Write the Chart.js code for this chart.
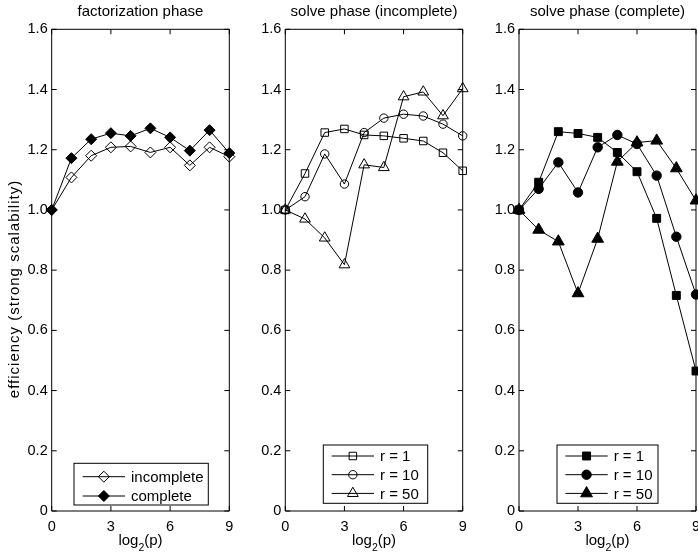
<!DOCTYPE html>
<html>
<head>
<meta charset="utf-8">
<script src="https://cdn.jsdelivr.net/npm/chart.js@4/dist/chart.umd.min.js"></script>
<style>
  html, body { margin: 0; padding: 0; background: #fff; }
  body { width: 698px; height: 555px; position: relative; overflow: hidden; }
  canvas { position: absolute; top: 0; }
</style>
</head>
<body>
<canvas id="c1" width="240" height="555" style="left:0px"></canvas>
<canvas id="c2" width="240" height="555" style="left:230px"></canvas>
<canvas id="c3" width="238" height="555" style="left:460px"></canvas>
<script>
// ---- data ----
const log2p = [0, 1, 2, 3, 4, 5, 6, 7, 8, 9];
const xTicks = [0, 3, 6, 9];
const yTicks = [0, 0.2, 0.4, 0.6, 0.8, 1, 1.2, 1.4, 1.6];

const factIncomplete = [1.0, 1.108, 1.180, 1.208, 1.211, 1.191, 1.208, 1.148, 1.208, 1.177];
const factComplete   = [1.0, 1.172, 1.235, 1.255, 1.246, 1.271, 1.241, 1.197, 1.265, 1.189];

const solveIncR1  = [1.0, 1.121, 1.257, 1.269, 1.249, 1.246, 1.238, 1.229, 1.190, 1.130];
const solveIncR10 = [1.0, 1.044, 1.186, 1.086, 1.257, 1.305, 1.318, 1.312, 1.285, 1.246];
const solveIncR50 = [1.0, 0.970, 0.907, 0.818, 1.150, 1.141, 1.376, 1.392, 1.313, 1.403];

const solveComR1  = [1.0, 1.092, 1.260, 1.254, 1.241, 1.191, 1.127, 0.972, 0.716, 0.465];
const solveComR10 = [1.0, 1.070, 1.158, 1.058, 1.208, 1.249, 1.219, 1.114, 0.911, 0.719];
const solveComR50 = [1.0, 0.934, 0.895, 0.723, 0.904, 1.160, 1.224, 1.230, 1.138, 1.031];

const titles = ['factorization phase', 'solve phase (incomplete)', 'solve phase (complete)'];
const xLabelMain = 'log';
const xLabelSub = '2';
const xLabelTail = '(p)';
const yLabel = 'efficiency (strong scalability)';

// ---- helpers ----
const FONT = '"Liberation Sans", Arial, Helvetica, sans-serif';
const pts = (arr) => log2p.map((x, i) => ({ x: x, y: arr[i] }));
const CLEAR = 'rgba(0,0,0,0)';

function ds(label, arr, style, radius, filled) {
  return {
    label: label,
    data: pts(arr),
    borderColor: '#000',
    borderWidth: 1,
    pointStyle: style,
    pointRadius: radius,
    pointHoverRadius: radius,
    pointBorderWidth: 1,
    pointBorderColor: '#000',
    pointBackgroundColor: filled ? '#000' : CLEAR,
    backgroundColor: filled ? '#000' : CLEAR,
    fill: false,
    tension: 0,
    clip: false
  };
}

function drawMarker(ctx, d, x, y) {
  if (Chart.helpers && Chart.helpers.drawPoint) {
    ctx.save();
    ctx.fillStyle = d.pointBackgroundColor;
    ctx.strokeStyle = d.pointBorderColor;
    ctx.lineWidth = d.pointBorderWidth;
    Chart.helpers.drawPoint(ctx, { pointStyle: d.pointStyle, radius: d.pointRadius, rotation: 0, borderWidth: d.pointBorderWidth }, x, y);
    ctx.restore();
  }
}

const framePlugin = {
  id: 'frame',
  afterDraw(chart, args, opts) {
    const ctx = chart.ctx;
    const a = chart.chartArea;
    const xs = chart.scales.x, ys = chart.scales.y;
    ctx.save();
    ctx.strokeStyle = '#000';
    ctx.lineWidth = 1;
    ctx.beginPath();
    ctx.rect(a.left, a.top, a.right - a.left, a.bottom - a.top);
    ctx.stroke();
    const L = 5;
    ctx.beginPath();
    xTicks.forEach(v => {
      const px = xs.getPixelForValue(v);
      ctx.moveTo(px, a.bottom); ctx.lineTo(px, a.bottom - L);
      ctx.moveTo(px, a.top); ctx.lineTo(px, a.top + L);
    });
    yTicks.forEach(v => {
      const py = ys.getPixelForValue(v);
      ctx.moveTo(a.left, py); ctx.lineTo(a.left + L, py);
      ctx.moveTo(a.right, py); ctx.lineTo(a.right - L, py);
    });
    ctx.stroke();

    // title
    ctx.fillStyle = '#000';
    ctx.font = '15px ' + FONT;
    ctx.textAlign = 'center';
    ctx.textBaseline = 'middle';
    const cx = (a.left + a.right) / 2;
    ctx.fillText(opts.title, cx, 12);

    // x-axis label with subscript
    ctx.textBaseline = 'alphabetic';
    ctx.textAlign = 'left';
    ctx.font = '15px ' + FONT;
    const w1 = ctx.measureText(xLabelMain).width;
    const w3 = ctx.measureText(xLabelTail).width;
    ctx.font = '10.5px ' + FONT;
    const w2 = ctx.measureText(xLabelSub).width;
    let x0 = cx - (w1 + w2 + w3) / 2;
    const base = 545;
    ctx.font = '15px ' + FONT;
    ctx.fillText(xLabelMain, x0, base);
    ctx.font = '10.5px ' + FONT;
    ctx.fillText(xLabelSub, x0 + w1, base + 6);
    ctx.font = '15px ' + FONT;
    ctx.fillText(xLabelTail, x0 + w1 + w2, base);

    // y label
    if (opts.yLabel) {
      ctx.save();
      ctx.translate(15, 289);
      ctx.rotate(-Math.PI / 2);
      ctx.textAlign = 'center';
      ctx.textBaseline = 'middle';
      ctx.font = '15px ' + FONT;
      try { ctx.letterSpacing = '1px'; } catch (e) {}
      ctx.fillText(yLabel, 0, 0);
      try { ctx.letterSpacing = '0px'; } catch (e) {}
      ctx.restore();
    }

    // legend
    const lg = opts.legend;
    const dsets = chart.data.datasets;
    const bx = a.left + lg.dx, bw = lg.w, bh = lg.h;
    const by = a.bottom - lg.dyBottom - bh;
    ctx.fillStyle = '#fff';
    ctx.fillRect(bx, by, bw, bh);
    ctx.strokeStyle = '#000';
    ctx.lineWidth = 1;
    ctx.strokeRect(bx, by, bw, bh);
    dsets.forEach((d, i) => {
      const ry = by + lg.firstRow + i * lg.rowGap;
      ctx.beginPath();
      ctx.strokeStyle = '#000';
      ctx.lineWidth = 1;
      ctx.moveTo(bx + lg.lineX0, ry);
      ctx.lineTo(bx + lg.lineX1, ry);
      ctx.stroke();
      drawMarker(ctx, d, bx + (lg.lineX0 + lg.lineX1) / 2, ry);
      ctx.fillStyle = '#000';
      ctx.font = '15px ' + FONT;
      ctx.textAlign = 'left';
      ctx.textBaseline = 'middle';
      ctx.fillText(d.label, bx + lg.textX, ry + 1);
    });
    ctx.restore();
  }
};

function makeChart(id, datasets, yWidth, padRight, title, showYLabel, legend) {
  return new Chart(document.getElementById(id), {
    type: 'line',
    data: { datasets: datasets },
    options: {
      responsive: false,
      animation: false,
      devicePixelRatio: 1,
      layout: { autoPadding: false, padding: { left: 0, right: padRight, top: 29.3, bottom: 0 } },
      plugins: {
        legend: { display: false },
        tooltip: { enabled: false },
        frame: { title: title, yLabel: showYLabel, legend: legend }
      },
      scales: {
        x: {
          type: 'linear', min: 0, max: 9,
          afterBuildTicks: (s) => { s.ticks = xTicks.map(v => ({ value: v })); },
          afterFit: (s) => { s.height = 44; s.paddingLeft = 0; s.paddingRight = 0; },
          grid: { display: false, drawTicks: false },
          border: { display: false },
          ticks: { color: '#000', padding: 7, font: { family: FONT, size: 14.5 }, maxRotation: 0, autoSkip: false }
        },
        y: {
          type: 'linear', min: 0, max: 1.6,
          afterBuildTicks: (s) => { s.ticks = yTicks.map(v => ({ value: v })); },
          afterFit: (s) => { s.width = yWidth; s.paddingTop = 0; s.paddingBottom = 0; },
          grid: { display: false, drawTicks: false },
          border: { display: false },
          ticks: { color: '#000', padding: 4, font: { family: FONT, size: 14.5 }, autoSkip: false }
        }
      }
    },
    plugins: [framePlugin]
  });
}

makeChart('c1', [
  ds('incomplete', factIncomplete, 'rectRot', 5.5, false),
  ds('complete', factComplete, 'rectRot', 5.5, true)
], 51.7, 10.7, titles[0], true,
  { dx: 22.3, w: 134.3, h: 41.7, dyBottom: 6, firstRow: 13.4, rowGap: 19.3, lineX0: 8.7, lineX1: 51, textX: 57 });

makeChart('c2', [
  ds('r = 1', solveIncR1, 'rect', 5.3, false),
  ds('r = 10', solveIncR10, 'circle', 4.2, false),
  ds('r = 50', solveIncR50, 'triangle', 6.2, false)
], 55.3, 7.3, titles[1], false,
  { dx: 38, w: 104.4, h: 58.3, dyBottom: 7.7, firstRow: 11, rowGap: 18.7, lineX0: 8.4, lineX1: 50.7, textX: 56.7 });

makeChart('c3', [
  ds('r = 1', solveComR1, 'rect', 5.6, true),
  ds('r = 10', solveComR10, 'circle', 4.7, true),
  ds('r = 50', solveComR50, 'triangle', 6.8, true)
], 59, 2, titles[2], false,
  { dx: 38, w: 101, h: 58.3, dyBottom: 7.7, firstRow: 11, rowGap: 18.7, lineX0: 8.4, lineX1: 50.7, textX: 56.7 });
</script>
</body>
</html>
